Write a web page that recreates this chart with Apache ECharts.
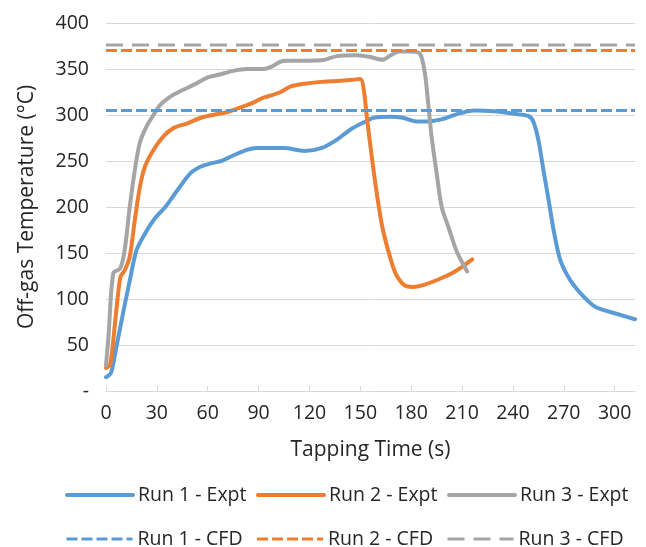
<!DOCTYPE html>
<html>
<head>
<meta charset="utf-8">
<script src="https://cdn.jsdelivr.net/npm/echarts@6/dist/echarts.min.js"></script>
<style>html,body{margin:0;padding:0;background:#fff}#c{width:646px;height:547px}</style>
</head>
<body>
<div id="c"></div>
<script>
// ---- data ----
const run1Time = [0, 3, 6, 10, 14, 18, 23, 29, 35, 42, 50, 56, 63, 68, 75, 83, 89, 97, 105, 117, 127, 136, 144, 152, 158, 168, 175, 183, 189, 197, 204, 209, 217, 229, 242, 249, 252, 255, 258, 261, 264, 268, 274, 282, 289, 301, 312];
const run1Temp = [15, 20, 47, 84, 120, 153, 171, 188, 200, 218, 237, 244, 248, 250, 256, 262, 264, 264, 264, 261, 264, 273, 284, 292, 297, 298, 297, 293, 293, 295, 299, 302, 305, 304, 301, 299, 293, 273, 240, 208, 175, 142, 120, 102, 91, 84, 78];

const run2Time = [0, 2.5, 5.5, 8.5, 11, 14, 17, 20, 23, 28, 34, 40, 48, 56, 63, 71, 79, 85, 93, 97, 103, 109, 117, 127, 136, 144, 150, 152, 154, 157, 160, 163, 167, 171, 176, 181, 187, 197, 204, 210, 216];
const run2Temp = [25, 29, 77, 124, 131, 146, 186, 222, 244, 262, 277, 286, 291, 297, 300, 303, 308, 312, 319, 321, 325, 331, 334, 336, 337, 338, 339, 328, 295, 251, 211, 178, 149, 127, 115, 113, 115, 122, 128, 135, 143];

const run3Time = [0, 1.5, 4.3, 8.3, 11, 14, 17, 20, 24, 28, 32, 38, 44, 52, 60, 67, 75, 83, 93, 97, 103, 106, 117, 129, 136, 148, 156, 163, 168, 173, 179, 185, 188, 190, 192, 195, 198, 202, 207, 213];
const run3Temp = [28, 60, 128, 133, 153, 200, 240, 270, 288, 300, 311, 320, 326, 333, 341, 344, 348, 350, 350, 352, 358, 359, 359, 360, 364, 365, 363, 360, 365, 369, 369, 367, 346, 313, 277, 237, 200, 178, 151, 130];

const cfdRange = [0, 312];
const cfdTemps = [305, 370, 376];

const seriesNames = ['Run 1 - Expt', 'Run 2 - Expt', 'Run 3 - Expt', 'Run 1 - CFD', 'Run 2 - CFD', 'Run 3 - CFD'];
const xTicks = [0, 30, 60, 90, 120, 150, 180, 210, 240, 270, 300];
const yTicks = [0, 50, 100, 150, 200, 250, 300, 350, 400];

// ---- styling ----
const colors = ['#5B9BD5', '#ED7D31', '#A5A5A5'];
const FONT = '"Open Sans", "Noto Sans", sans-serif';
const TXT = '#262626';

function pairs(t, v) { return t.map((x, i) => [x, v[i]]); }

const exptData = [pairs(run1Time, run1Temp), pairs(run2Time, run2Temp), pairs(run3Time, run3Temp)];
const dashes = [[11, 4], [11, 4], [17, 9]];

const series = [];
exptData.forEach((d, i) => {
  series.push({
    name: seriesNames[i], type: 'line', data: d, symbol: 'none', smooth: 0.3,
    lineStyle: { color: colors[i], width: 4, cap: 'round', join: 'round' },
    itemStyle: { color: colors[i] }, z: 2 + i
  });
});
cfdTemps.forEach((v, i) => {
  series.push({
    name: seriesNames[3 + i], type: 'line', data: cfdRange.map(x => [x, v]), symbol: 'none',
    lineStyle: { color: colors[i], width: 3, type: dashes[i] },
    itemStyle: { color: colors[i] }, z: 6 + i
  });
});

function legendRow(names, top, width) {
  return {
    top: top, left: 65, padding: 0, orient: 'horizontal',
    itemWidth: 66, itemHeight: 14, itemGap: 8,
    data: names,
    itemStyle: { opacity: 0, borderWidth: 0 },
    lineStyle: { width: width },
    textStyle: { fontFamily: FONT, fontSize: 19.5, color: TXT, width: 110, lineHeight: 22 },
    selectedMode: false
  };
}

const option = {
  animation: false,
  backgroundColor: '#fff',
  grid: { left: 106, right: 11, top: 23, bottom: 156 },
  legend: [legendRow(seriesNames.slice(0, 3), 484, 4), legendRow(seriesNames.slice(3), 528, 3)],
  xAxis: {
    type: 'value', min: 0, max: 312, interval: 30,
    name: 'Tapping Time (s)', nameLocation: 'middle', nameGap: 49,
    nameTextStyle: { fontFamily: FONT, fontSize: 21, color: TXT },
    axisLine: { show: true, lineStyle: { color: '#d9d9d9', width: 1 } },
    axisTick: { show: true, inside: true, length: 5, lineStyle: { color: '#d9d9d9' }, customValues: xTicks },
    axisLabel: { fontFamily: FONT, fontSize: 19.5, color: TXT, margin: 12, customValues: xTicks },
    splitLine: { show: false }
  },
  yAxis: {
    type: 'value', min: 0, max: 400, interval: 50,
    name: 'Off-gas Temperature (°C)', nameLocation: 'middle', nameGap: 68, nameRotate: 90,
    nameTextStyle: { fontFamily: FONT, fontSize: 21, color: TXT },
    axisLine: { show: false }, axisTick: { show: false },
    axisLabel: { fontFamily: FONT, fontSize: 19.5, color: TXT, margin: 17,
      formatter: v => (v === 0 ? '-' : String(v)) },
    splitLine: { show: true, lineStyle: { color: '#d9d9d9', width: 1 } }
  },
  series: series
};

const chart = echarts.init(document.getElementById('c'), null, { renderer: 'canvas' });
chart.setOption(option);
</script>
</body>
</html>
